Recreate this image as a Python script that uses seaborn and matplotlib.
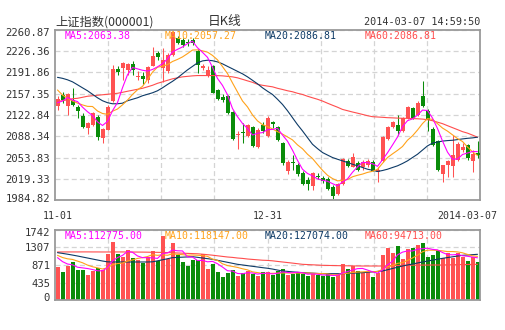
import numpy as np
import pandas as pd
import matplotlib
matplotlib.use("Agg")
import matplotlib.pyplot as plt
import matplotlib.transforms as mtransforms
from matplotlib.ticker import FixedLocator
import seaborn as sns

# ---------------- data ----------------
date_labels = ["11-01", "12-31", "2014-03-07"]
date_index = [0, 42, 84]

open_ = [2137.9, 2155.7, 2137.9, 2147.6, 2136.3, 2121.7, 2102.3, 2107.2, 2120.1, 2086.1,
         2099.1, 2146.0, 2197.8, 2199.4, 2196.1, 2205.9, 2184.8, 2186.4, 2180.0, 2202.6,
         2223.6, 2199.4, 2194.5, 2220.4, 2247.9, 2244.7, 2241.5, 2244.7, 2226.9, 2199.4,
         2186.4, 2202.6, 2163.8, 2152.5, 2154.1, 2128.2, 2091.0, 2095.8, 2089.4, 2103.9,
         2071.6, 2107.2, 2089.4, 2112.0, 2103.9, 2078.0, 2032.7, 2047.3, 2042.4, 2027.9,
         2016.5, 2006.9, 2024.6, 2019.8, 2018.2, 2005.2, 1993.9, 2010.1, 2048.9, 2039.2,
         2045.7, 2037.6, 2042.4, 2047.3, 2029.5, 2048.9, 2084.5, 2103.9, 2107.2, 2097.4,
         2118.5, 2134.7, 2123.3, 2154.1, 2129.8, 2100.7, 2081.3, 2026.3, 2042.4, 2040.8,
         2050.5, 2066.7, 2074.8, 2048.9, 2061.9]
high = [2154.1, 2160.6, 2158.9, 2167.0, 2139.5, 2126.6, 2112.0, 2128.2, 2123.3, 2102.3,
        2139.5, 2204.2, 2202.6, 2209.1, 2207.5, 2210.7, 2194.5, 2192.9, 2202.6, 2233.4,
        2226.9, 2231.7, 2223.6, 2260.0, 2251.2, 2247.9, 2246.3, 2247.9, 2230.1, 2205.9,
        2202.6, 2204.2, 2165.4, 2157.3, 2155.7, 2129.8, 2097.4, 2110.4, 2108.8, 2105.5,
        2102.3, 2112.0, 2121.7, 2113.6, 2105.5, 2079.7, 2050.5, 2058.6, 2044.1, 2031.1,
        2021.4, 2029.5, 2027.9, 2024.6, 2021.4, 2008.5, 2011.7, 2053.8, 2052.1, 2061.9,
        2048.9, 2050.5, 2052.1, 2050.5, 2037.6, 2089.4, 2105.5, 2113.6, 2123.3, 2120.1,
        2137.9, 2136.3, 2146.0, 2178.4, 2133.1, 2103.9, 2082.9, 2042.4, 2050.5, 2091.0,
        2079.7, 2078.0, 2076.4, 2066.7, 2081.3]
low = [2131.4, 2142.8, 2123.3, 2137.9, 2118.5, 2102.3, 2092.6, 2105.5, 2082.9, 2078.0,
       2099.1, 2144.4, 2188.1, 2180.0, 2188.1, 2188.1, 2180.0, 2173.5, 2175.1, 2202.6,
       2212.3, 2176.7, 2191.3, 2218.8, 2238.2, 2233.4, 2235.0, 2236.6, 2191.3, 2196.1,
       2184.8, 2158.9, 2147.6, 2144.4, 2125.0, 2082.9, 2068.3, 2078.0, 2087.7, 2071.6,
       2070.0, 2094.2, 2087.7, 2102.3, 2081.3, 2042.4, 2026.3, 2034.3, 2024.6, 2008.5,
       2000.4, 2000.4, 2018.2, 2011.7, 2000.4, 1986.0, 1992.3, 2008.5, 2037.6, 2037.6,
       2031.1, 2034.3, 2039.2, 2031.1, 2013.3, 2047.3, 2082.9, 2102.3, 2091.0, 2095.8,
       2116.9, 2116.9, 2121.7, 2136.3, 2097.4, 2073.2, 2031.1, 2013.3, 2021.4, 2021.4,
       2048.9, 2063.5, 2050.5, 2029.5, 2053.8]
close = [2149.2, 2147.6, 2157.3, 2139.5, 2129.8, 2103.9, 2110.4, 2126.6, 2087.7, 2100.7,
         2136.3, 2197.8, 2192.9, 2207.5, 2205.9, 2196.1, 2186.4, 2181.6, 2201.0, 2218.8,
         2217.2, 2212.3, 2220.4, 2257.6, 2239.8, 2236.6, 2239.8, 2239.8, 2204.2, 2202.6,
         2196.1, 2158.9, 2149.2, 2147.6, 2126.6, 2084.5, 2092.6, 2094.2, 2107.2, 2073.2,
         2099.1, 2097.4, 2118.5, 2108.8, 2082.9, 2044.1, 2047.3, 2045.7, 2026.3, 2010.1,
         2010.1, 2027.9, 2021.4, 2014.9, 2002.0, 1990.7, 2010.1, 2052.1, 2040.8, 2055.4,
         2034.3, 2047.3, 2048.9, 2032.7, 2034.3, 2087.7, 2103.9, 2112.0, 2097.4, 2118.5,
         2136.3, 2118.5, 2142.8, 2137.9, 2115.2, 2074.8, 2034.2, 2041.0, 2047.4, 2058.4,
         2075.2, 2071.5, 2053.1, 2059.6, 2057.5]
# closes of the nine sessions before 11-01 (feed the first MA5 / MA10 points)
prior_close = [2229.3, 2210.7, 2183.1, 2164.5, 2133.0, 2133.9, 2128.9, 2160.5, 2141.6]

ma20 = [2184.0, 2182.4, 2180.0, 2176.7, 2171.9, 2167.0, 2162.2, 2156.5, 2150.8, 2146.0,
        2142.8, 2141.1, 2141.1, 2142.0, 2146.0, 2148.4, 2150.8, 2154.1, 2156.5, 2158.9,
        2162.2, 2167.0, 2172.4, 2177.5, 2183.2, 2189.7, 2196.1, 2201.8, 2207.5, 2210.7,
        2211.8, 2211.0, 2209.1, 2205.9, 2201.8, 2197.8, 2193.7, 2189.7, 2184.8, 2179.2,
        2173.5, 2167.0, 2161.4, 2156.2, 2148.4, 2140.0, 2129.8, 2118.5, 2107.2, 2097.0,
        2086.1, 2075.3, 2068.3, 2061.9, 2057.8, 2053.8, 2051.0, 2048.4, 2045.7, 2042.9,
        2040.3, 2037.6, 2034.8, 2033.2, 2031.1, 2032.7, 2034.8, 2037.6, 2040.3, 2044.1,
        2048.4, 2053.8, 2059.1, 2065.9, 2072.7, 2077.2, 2078.9, 2080.5, 2081.3, 2081.8,
        2082.9, 2084.0, 2085.0, 2085.7, 2086.81]
ma60 = [2145.2, 2146.0, 2147.6, 2149.2, 2150.0, 2151.6, 2153.3, 2154.1, 2154.9, 2155.7,
        2156.5, 2157.3, 2158.1, 2159.7, 2161.4, 2163.0, 2164.6, 2166.2, 2168.6, 2171.1,
        2174.3, 2176.7, 2179.2, 2181.6, 2183.2, 2184.8, 2185.6, 2186.4, 2186.9, 2186.9,
        2186.9, 2186.9, 2186.8, 2186.4, 2185.6, 2184.8, 2183.2, 2180.8, 2178.3, 2175.9,
        2172.7, 2171.1, 2169.8, 2168.6, 2166.2, 2164.3, 2162.2, 2160.6, 2158.1, 2156.2,
        2153.3, 2150.8, 2148.4, 2145.5, 2142.0, 2138.7, 2135.5, 2131.9, 2129.8, 2127.7,
        2125.8, 2123.8, 2121.7, 2120.1, 2119.6, 2119.1, 2118.5, 2118.2, 2117.8, 2117.5,
        2117.4, 2117.0, 2116.7, 2116.2, 2115.2, 2113.6, 2111.2, 2108.8, 2105.5, 2102.3,
        2099.1, 2095.8, 2093.4, 2090.2, 2086.81]

volume = [829, 705, 854, 946, 747, 747, 622, 730, 788, 747,
          1145, 1451, 1145, 1062, 1244, 1037, 995, 929, 1062, 1219,
          970, 1593, 1012, 1427, 1120, 954, 846, 995, 995, 1137,
          780, 900, 700, 580, 680, 740, 600, 660, 720, 640,
          600, 690, 690, 622, 720, 780, 610, 650, 700, 650,
          600, 640, 620, 600, 640, 560, 650, 904, 780, 846,
          720, 680, 700, 560, 680, 1120, 1302, 1161, 1352, 1020,
          1269, 1302, 1369, 1427, 1078, 1120, 1244, 1037, 1178, 1037,
          1178, 1078, 970, 1078, 946]
prior_volume = [1250, 1180, 1100, 1160, 1160, 1200, 1150, 1050, 1041]

vol_ma20 = [1178, 1160, 1140, 1118, 1095, 1070, 1045, 1020, 995, 970,
            950, 946, 946, 946, 946, 946, 946, 946, 946, 950,
            975, 1000, 1027, 1054, 1060, 1066, 1072, 1078, 1062, 1045,
            1029, 1012, 988, 963, 938, 913, 888, 872, 855, 838,
            822, 805, 790, 770, 745, 722, 712, 700, 690, 680,
            674, 668, 661, 655, 655, 655, 655, 655, 661, 668,
            674, 680, 690, 700, 712, 722, 753, 784, 815, 846,
            871, 896, 921, 946, 969, 992, 1014, 1037, 1056, 1075,
            1094, 1112, 1120, 1128, 1137]
vol_ma60 = [1195, 1195, 1196, 1196, 1196, 1197, 1197, 1196, 1196, 1195,
            1195, 1195, 1196, 1196, 1195, 1194, 1193, 1192, 1190, 1188,
            1186, 1184, 1180, 1176, 1170, 1165, 1160, 1155, 1150, 1140,
            1128, 1115, 1100, 1085, 1070, 1060, 1045, 1035, 1020, 1010,
            1000, 990, 985, 975, 960, 946, 932, 918, 903, 888,
            882, 876, 870, 863, 860, 858, 855, 853, 851, 849,
            847, 846, 846, 846, 846, 846, 850, 855, 859, 863,
            865, 866, 868, 869, 870, 871, 871, 871, 874, 877,
            879, 882, 884, 886, 888]

price_ticks = ["2260.87", "2226.36", "2191.86", "2157.35", "2122.84",
               "2088.34", "2053.83", "2019.33", "1984.82"]
volume_ticks = ["1742", "1307", "871", "435", "0"]

price_legend = ["MA5:2063.38", "MA10:2057.27", "MA20:2086.81", "MA60:2086.81"]
volume_legend = ["MA5:112775.00", "MA10:118147.00", "MA20:127074.00", "MA60:94713.00"]

# ---------------- styling ----------------
RED = "#ff5252"
GREEN = "#0a8c0a"
C_MA5 = "#ff00ff"
C_MA10 = "#ffa21a"
C_MA20 = "#0d3a66"
C_MA60 = "#ff4d4d"
GRID = "#d4d4d4"
FRAME = "#9a9a9a"
TXT = "#333333"
MONO = "DejaVu Sans Mono"
LW = 0.8

sns.set_style("white")
plt.rcParams["font.family"] = ["DejaVu Sans Mono", "Noto Sans CJK SC"]

n = len(close)
idx = np.arange(n)
df = pd.DataFrame({"i": idx, "open": open_, "high": high, "low": low,
                   "close": close, "ma20": ma20, "ma60": ma60,
                   "volume": volume, "vma20": vol_ma20, "vma60": vol_ma60})
df["up"] = df["close"] >= df["open"]
full_close = pd.Series(prior_close + close)
df["ma5"] = full_close.rolling(5).mean().iloc[len(prior_close):].to_numpy()
df["ma10"] = full_close.rolling(10).mean().iloc[len(prior_close):].to_numpy()
full_vol = pd.Series(prior_volume + volume, dtype=float)
df["vma5"] = full_vol.rolling(5).mean().iloc[len(prior_volume):].to_numpy()
df["vma10"] = full_vol.rolling(10).mean().iloc[len(prior_volume):].to_numpy()
df["kind"] = np.where(df["up"], "up", "down")

W, H = 505, 330
fig = plt.figure(figsize=(W / 100, H / 100), dpi=100)
fig.patch.set_facecolor("white")


def px_axes(left, top, right, bottom):
    return fig.add_axes([left / W, 1 - bottom / H, (right - left) / W, (bottom - top) / H])


def nudge(label, dy_px):
    label.set_transform(label.get_transform() +
                        mtransforms.ScaledTranslation(0, dy_px / 100, fig.dpi_scale_trans))


ax = px_axes(55, 30, 480, 200)
axv = px_axes(55, 230, 480, 300)

pmin, pmax = float(price_ticks[-1]), float(price_ticks[0])
vmax = float(volume_ticks[0])
xgrid = np.linspace(-0.5, n - 0.5, 9)[1:-1]

for a in (ax, axv):
    a.set_xlim(-0.5, n - 0.5)
    for s in a.spines.values():
        s.set_color(FRAME)
        s.set_linewidth(1.3)
    a.xaxis.set_minor_locator(FixedLocator(xgrid))
    a.grid(True, which="minor", axis="x", color=GRID, linestyle=(0, (4, 2.5)), linewidth=0.9)
    a.grid(True, which="major", axis="y", color=GRID, linestyle=(0, (4, 2.5)), linewidth=0.9)
    a.tick_params(which="both", length=0, colors=TXT)
    a.set_axisbelow(True)

# ---- price panel ----
ax.set_ylim(pmin, pmax)
ax.set_yticks([float(t) for t in price_ticks], labels=price_ticks)
for lab in ax.get_yticklabels():
    lab.set_fontfamily(MONO)
    lab.set_fontsize(7.6)
    lab.set_color(TXT)
plabels = ax.get_yticklabels()
nudge(plabels[0], -2)
nudge(plabels[-1], 1.5)

colors = np.where(df["up"], RED, GREEN)
ax.vlines(df["i"], df["low"], df["high"], colors=colors, linewidth=0.75, zorder=2)
body_low = np.minimum(df["open"], df["close"])
body_h = np.maximum(np.abs(df["close"] - df["open"]), 1.2)
ax.bar(df["i"], body_h, bottom=body_low, width=0.8, color=colors, linewidth=0, zorder=3)

for col, c in (("ma60", C_MA60), ("ma20", C_MA20), ("ma10", C_MA10), ("ma5", C_MA5)):
    sns.lineplot(data=df, x="i", y=col, color=c, linewidth=LW, ax=ax, zorder=4)

ax.set_xticks(date_index, labels=date_labels)
ax.tick_params(axis="x", pad=8)
for lab in ax.get_xticklabels():
    lab.set_fontfamily(MONO)
    lab.set_fontsize(7.1)
    lab.set_color(TXT)
last = ax.get_xticklabels()[-1]
last.set_transform(last.get_transform() + mtransforms.ScaledTranslation(-10 / 100, 0, fig.dpi_scale_trans))
ax.set_xlabel("")
ax.set_ylabel("")

for k, (txt, c) in enumerate(zip(price_legend, (C_MA5, C_MA10, C_MA20, C_MA60))):
    ax.text((65 + 100 * k - 55) / 425, 1 - 6 / 170, txt, transform=ax.transAxes,
            color=c, fontsize=7.1, family=MONO, va="center", ha="left", zorder=6)

# ---- volume panel ----
sns.barplot(data=df, x="i", y="volume", hue="kind", palette={"up": RED, "down": GREEN},
            dodge=False, width=0.8, errorbar=None, legend=False, linewidth=0,
            saturation=1, ax=axv, zorder=2)
for col, c in (("vma60", C_MA60), ("vma20", C_MA20), ("vma10", C_MA10), ("vma5", C_MA5)):
    sns.lineplot(x=df["i"].to_numpy(), y=df[col].to_numpy(), color=c, linewidth=LW, ax=axv, zorder=4)
axv.set_xlim(-0.5, n - 0.5)
axv.set_ylim(0, vmax)
axv.set_yticks([float(t) for t in volume_ticks], labels=volume_ticks)
for lab in axv.get_yticklabels():
    lab.set_fontfamily(MONO)
    lab.set_fontsize(7.6)
    lab.set_color(TXT)
vlabels = axv.get_yticklabels()
nudge(vlabels[0], -2)
nudge(vlabels[-1], 3)
axv.set_xticks([])
axv.xaxis.set_minor_locator(FixedLocator(xgrid))
axv.set_xlabel("")
axv.set_ylabel("")

for k, (txt, c) in enumerate(zip(volume_legend, (C_MA5, C_MA10, C_MA20, C_MA60))):
    axv.text((65 + 100 * k - 55) / 425, 1 - 6 / 70, txt, transform=axv.transAxes,
             color=c, fontsize=7.1, family=MONO, va="center", ha="left", zorder=6)

# ---- header ----
fig.text(55 / W, 1 - 22 / H, "上证指数(000001)", fontsize=8.8, color=TXT,
         family=["Noto Sans CJK SC", "DejaVu Sans"], va="center", ha="left")
fig.text(225 / W, 1 - 22 / H, "日K线", fontsize=9.2, color=TXT,
         family=["Noto Sans CJK SC", "DejaVu Sans"], va="center", ha="center")
fig.text(480 / W, 1 - 22 / H, "2014-03-07 14:59:50", fontsize=7.3, color=TXT,
         family=MONO, va="center", ha="right")

fig.savefig("out.png", dpi=100, facecolor="white")
